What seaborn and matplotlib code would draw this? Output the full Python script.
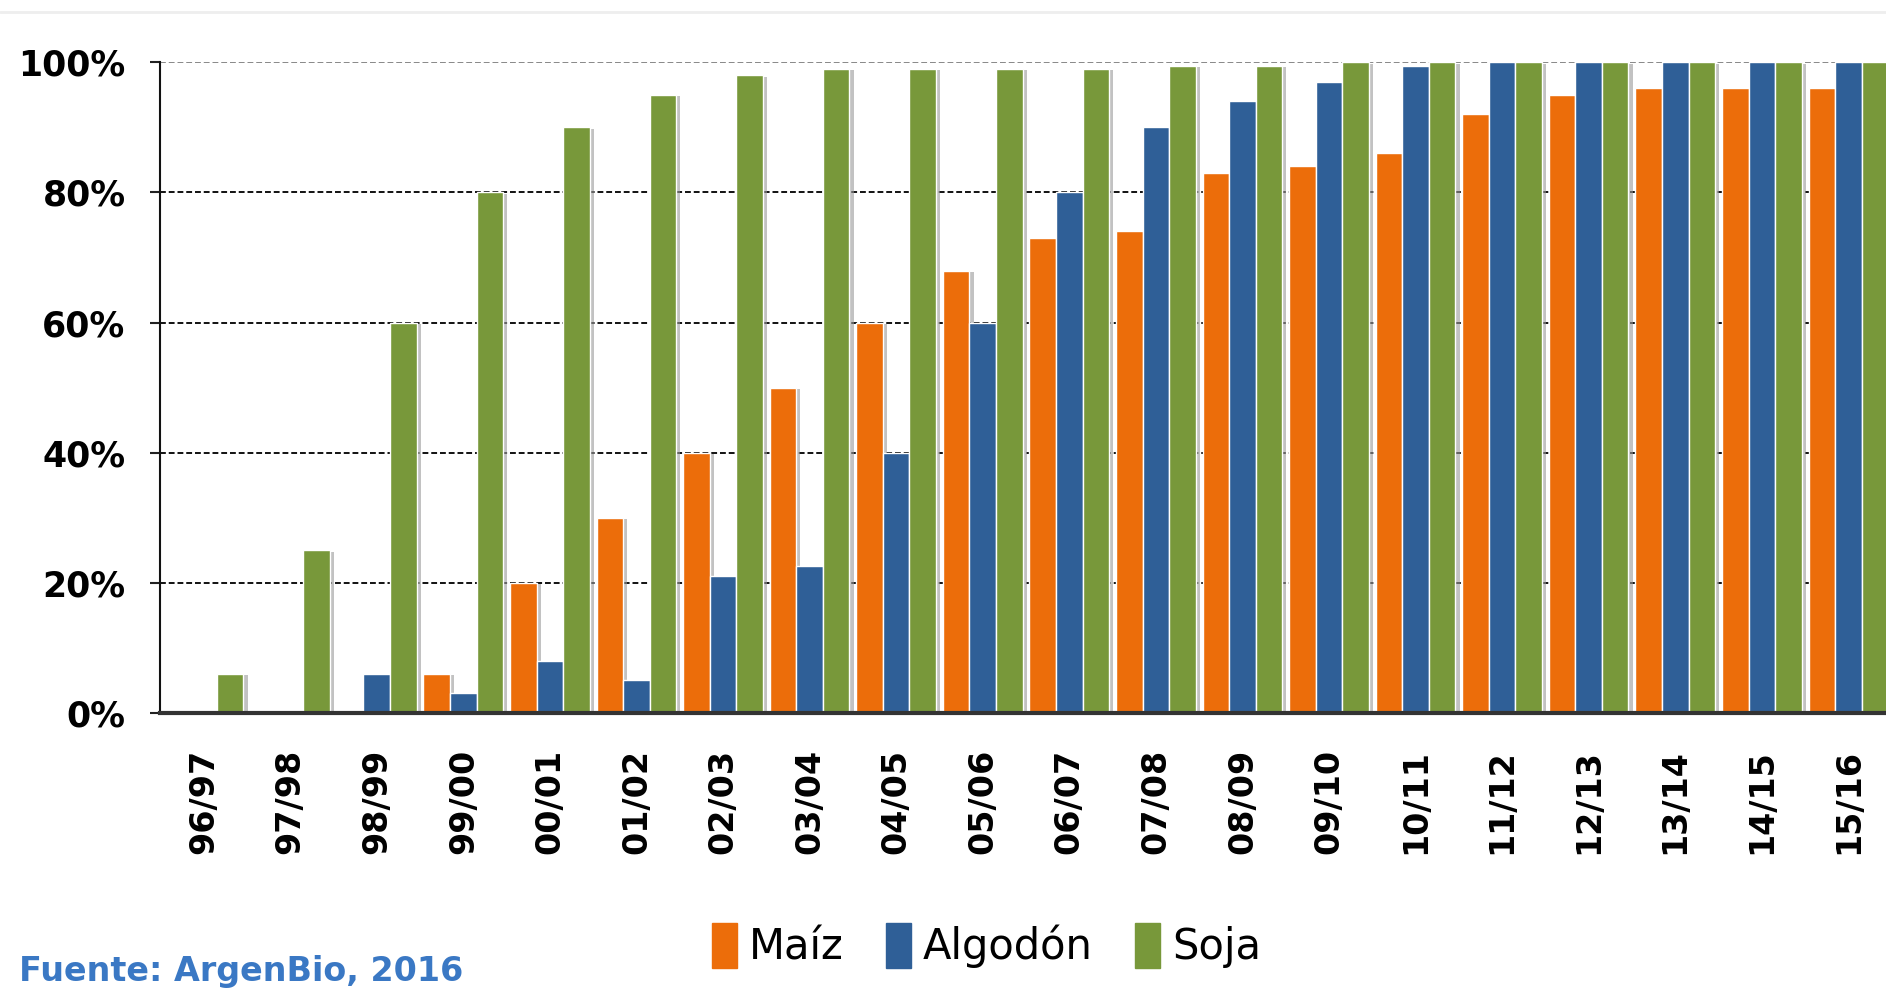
import matplotlib
matplotlib.use("Agg")
import matplotlib.pyplot as plt
import matplotlib.patheffects as pe
import seaborn as sns
import pandas as pd
from matplotlib.ticker import FixedLocator

# data (adoption share, %)
campaigns = ["96/97", "97/98", "98/99", "99/00", "00/01", "01/02", "02/03", "03/04",
             "04/05", "05/06", "06/07", "07/08", "08/09", "09/10", "10/11", "11/12",
             "12/13", "13/14", "14/15", "15/16"]
maiz = [0, 0, 0, 6, 20, 30, 40, 50, 60, 68, 73, 74, 83, 84, 86, 92, 95, 96, 96, 96]
algodon = [0, 0, 6, 3, 8, 5, 21, 22.5, 40, 60, 80, 90, 94, 97, 99.5, 100, 100, 100, 100, 100]
soja = [6, 25, 60, 80, 90, 95, 98, 99, 99, 99, 99, 99.5, 99.5, 100, 100, 100, 100, 100, 100, 100]
crops = ["Maíz", "Algodón", "Soja"]
colors = ["#EC6D0A", "#2F5F97", "#78983A"]
y_ticks = [0, 20, 40, 60, 80, 100]
y_labels = ["0%", "20%", "40%", "60%", "80%", "100%"]
source = "Fuente: ArgenBio, 2016"

df = pd.DataFrame({
    "campania": campaigns * 3,
    "cultivo": [crops[0]] * 20 + [crops[1]] * 20 + [crops[2]] * 20,
    "valor": maiz + algodon + soja,
})

sns.set_style("white")
plt.rcParams["font.family"] = ["DejaVu Sans"]
plt.rcParams["text.color"] = "black"
plt.rcParams["xtick.color"] = "black"
plt.rcParams["ytick.color"] = "black"

fig = plt.figure(figsize=(18.86, 9.9), dpi=100)
ax = fig.add_axes([0.085, 0.28, 0.918, 0.657])

sns.barplot(data=df, x="campania", y="valor", hue="cultivo", hue_order=crops,
            palette=colors, width=0.92, saturation=1, ax=ax, zorder=3)

shadow = [pe.SimplePatchShadow(offset=(3, -1), shadow_rgbFace="#9a9a9a", alpha=0.6), pe.Normal()]
for p in ax.patches:
    p.set_path_effects(shadow)

ax.set_ylim(0, 100)
ax.set_xlim(-0.5, 19.5)
ax.set_yticks(y_ticks)
ax.set_yticklabels(y_labels, fontsize=25, fontweight="bold")
ax.set_xticks(range(len(campaigns)))
ax.set_xticklabels(campaigns, rotation=90, fontsize=24, fontweight="bold")
ax.xaxis.set_minor_locator(FixedLocator([i + 0.5 for i in range(len(campaigns) - 1)]))
ax.tick_params(axis="x", which="major", length=0, pad=26)
ax.tick_params(axis="x", which="minor", length=11, width=1.3, color="#222222", direction="out")
ax.tick_params(axis="y", length=7, width=1.5, color="#222222", pad=18, left=True)
ax.set_xlabel("")
ax.set_ylabel("")

for v in y_ticks[1:]:
    ax.axhline(v, color="#111111" if v < 100 else "#888888", lw=1.4,
               ls=(0, (3, 1.5)), zorder=1)

sns.despine(ax=ax, top=True, right=True)
ax.spines["left"].set_color("#111111")
ax.spines["left"].set_linewidth(1.5)
ax.spines["bottom"].set_color("#333333")
ax.spines["bottom"].set_linewidth(3)
ax.spines["bottom"].set_zorder(4)

ax.legend_.remove()
handles = [plt.Rectangle((0, 0), 1, 1, color=c) for c in colors]
fig.legend(handles, crops, loc="center", bbox_to_anchor=(0.523, 0.045), ncol=3,
           frameon=False, fontsize=30, handlelength=0.6, handleheight=1.3,
           handletextpad=0.3, columnspacing=1.0)

fig.text(0.01, 0.002, source, color="#3A78C4", fontsize=24, fontweight="bold",
         ha="left", va="bottom")
fig.add_artist(plt.Line2D([0, 1], [0.988, 0.988], color="#eeeeee", lw=2))

fig.savefig("out.png", dpi=100)
